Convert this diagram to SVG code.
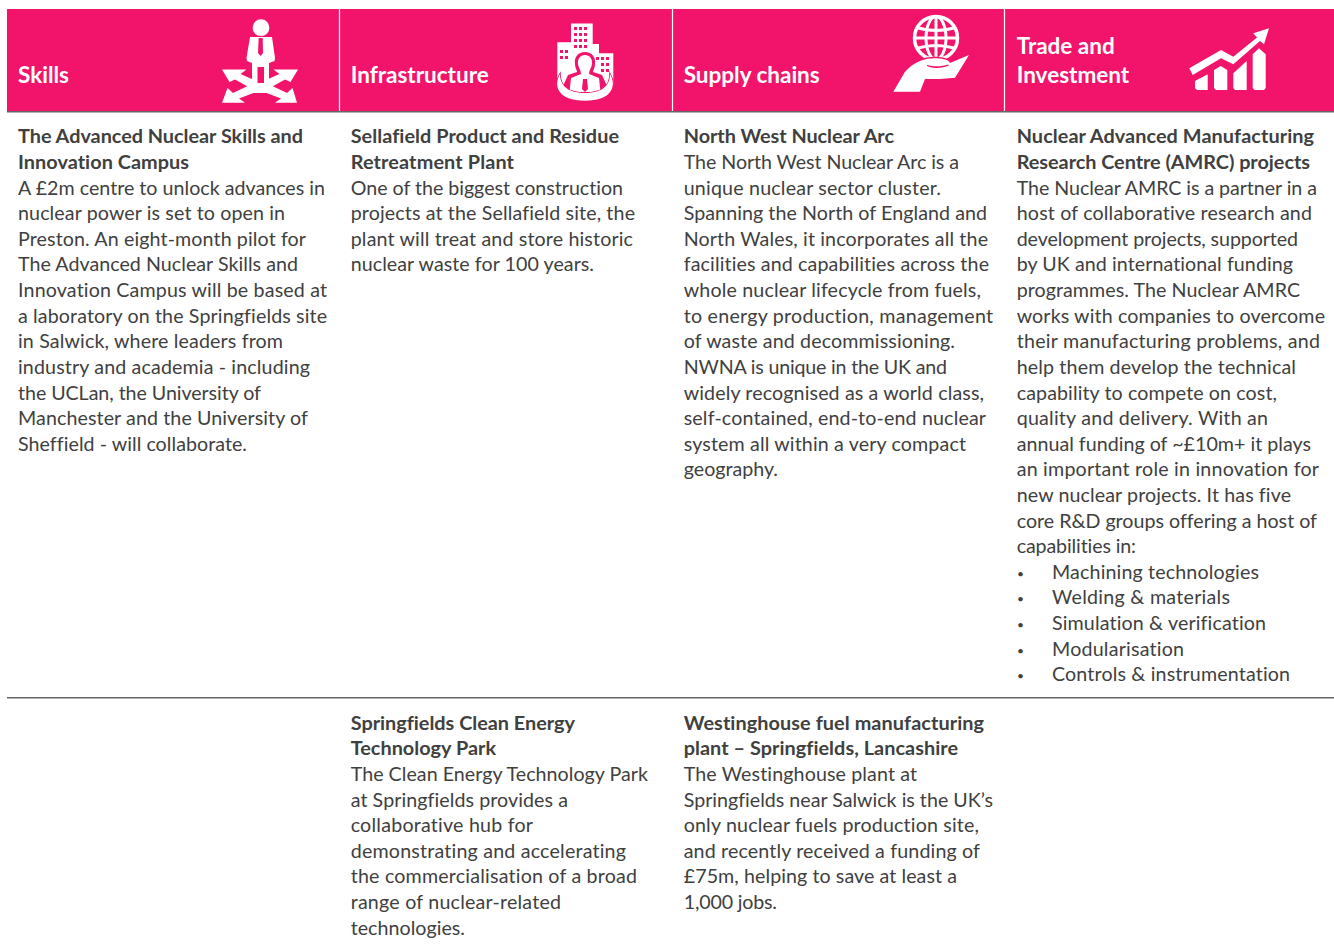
<svg xmlns="http://www.w3.org/2000/svg" width="1334" height="947" viewBox="0 0 1334 947">
<style>
text{font-family:"Lato","Liberation Sans",sans-serif;font-size:19.65px;fill:#404040;font-variant-ligatures:none}
.b{font-weight:700;font-size:19.85px}
.h{font-size:22.5px;font-weight:700;fill:#fff}
.d{font-size:12px}
.w{fill:#fff}
.p{fill:#f2146b}
</style>
<rect width="1334" height="947" fill="#fff"/>
<g id="header">
<rect x="7" y="9" width="1327" height="102" fill="#f2146b"/>
<path d="M339.500 9V111M672.500 9V111M1004.500 9V111" stroke="#fff" stroke-width="1.200" fill="none"/>
<rect x="7" y="111" width="1327" height="1.500" fill="#666"/>
<text class="h" x="18" y="83">Skills</text>
<text class="h" x="350.700" y="83">Infrastructure</text>
<text class="h" x="683.700" y="83">Supply chains</text>
<text class="h" x="1016.700" y="54">Trade and</text>
<text class="h" x="1016.700" y="83">Investment</text>
</g>
<g id="icon-skills">
<circle cx="261" cy="27.700" r="8.400" class="w"/>
<path class="w" d="M250 37H272L275 58L274.500 61L269 63V93H264V67H257.500V93H252V63L247 61L246.500 58Z"/>
<path class="p" d="M258.700 38H262.700L263 53L260.700 56L258 53Z"/>
<path class="w" d="M222 69.500H246.500L240.500 74L254 80V90L235 79.500L229.500 82Z"/>
<path class="w" d="M222 102.700H245L239 98.500L256 92V82L233 93L227.500 88Z"/>
<path class="w" d="M298 69.500H273.500L279.500 74L266 80V90L285 79.500L290.500 82Z"/>
<path class="w" d="M297 102.700H275L281 98.500L264 92V82L287 93L292.500 88Z"/>
<rect class="w" x="252" y="83" width="18" height="10"/>
</g>
<g id="icon-infrastructure">
<path class="w" d="M571 23.500H592.700V44H599V53.300H613.300V85H557.300V42.300H571Z"/>
<path class="p" d="M574 27h3v3h-3zM579 27h3v3h-3zM584 27h3v3h-3zM574 33h3v3h-3zM579 33h3v3h-3zM584 33h3v3h-3zM574 39h3v3h-3zM579 39h3v3h-3zM584 39h3v3h-3zM574 45h3v3h-3zM579 45h3v3h-3zM584 45h3v3h-3zM560 50h3v3h-3zM565 50h3v3h-3zM560 56h3v3h-3zM565 56h3v3h-3zM596 57h3v3h-3zM601 57h3v3h-3zM606 57h3v3h-3zM601 63h3v3h-3zM606 63h3v3h-3zM601 69h3v3h-3zM606 69h3v3h-3z"/>
<path class="p" d="M585 52C592 52 596 57 595 64C595 68 593 70 593 72L602 75L607 86L603 97H567L563 86L568 75L577 72C577 70 575 68 575 64C574 57 578 52 585 52Z"/>
<path class="w" d="M585 55C590 55 592.500 59 592 64C591.500 68 589 70 589 74L599 78L600.500 92H569.500L571 78L581 74C581 70 578.500 68 578 64C577.500 59 580 55 585 55Z"/>
<path class="p" d="M583 79H587L588 89L585 92L582 89Z"/>
<path class="w" stroke="#f2146b" stroke-width="1.500" paint-order="stroke" d="M560 74C553 86 558 100.700 585 100.700C612 100.700 617 86 610 74C610 84 604 93 585 93C566 93 560 84 560 74Z"/>
</g>
<g id="icon-supply">
<circle cx="936" cy="38" r="21.500" fill="none" stroke="#fff" stroke-width="3.500"/>
<ellipse cx="936" cy="38" rx="10" ry="21.500" fill="none" stroke="#fff" stroke-width="3"/>
<path d="M936 18V58M918 28Q936 33 954 28M914.500 38H957.500M918 48Q936 43 954 48" stroke="#fff" stroke-width="3" fill="none"/>
<path class="w" stroke="#f2146b" stroke-width="3" paint-order="stroke" d="M893.300 91.700L905 71.700C910 66 915 63 920 61C926 58.500 932 58 937 58.300C944 59 949 60 950 63L969 55L955 77.700L940 79H925L920 91.700Z"/>
<path class="p" d="M927 65C934 67 942 66.500 948 64.500L949 65.500C942 68.500 934 69 927 66Z"/>
</g>
<g id="icon-trade">
<path class="w" d="M1269 28.300L1253.300 33.300L1257 37.500L1233.300 56.700L1221 50L1189.300 68.300L1192.700 75L1221 58.300L1233.300 64.300L1260 41L1264 44.300Z"/>
<path class="w" d="M1195 81L1207.700 74.300V90H1197L1195 88Z"/>
<path class="w" d="M1214 70L1220.700 66L1227.300 70V90H1216L1214 88Z"/>
<path class="w" d="M1233.300 73.300L1246.700 61V90H1235L1233.300 88Z"/>
<path class="w" d="M1252.700 54.300L1259 48.300L1265.700 54.300V88L1264 90H1254.500L1252.700 88Z"/>
</g>
<rect id="divider" x="7" y="697" width="1327" height="1.500" fill="#666"/>
<g id="col-skills">
<text class="b" x="18" y="143" textLength="285">The Advanced Nuclear Skills and</text>
<text class="b" x="18" y="169" textLength="171">Innovation Campus</text>
<text x="18" y="195" textLength="307">A £2m centre to unlock advances in</text>
<text x="18" y="220" textLength="267">nuclear power is set to open in</text>
<text x="18" y="246" textLength="288">Preston. An eight-month pilot for</text>
<text x="18" y="271" textLength="280">The Advanced Nuclear Skills and</text>
<text x="18" y="297" textLength="309">Innovation Campus will be based at</text>
<text x="18" y="323" textLength="309">a laboratory on the Springfields site</text>
<text x="18" y="348" textLength="265">in Salwick, where leaders from</text>
<text x="18" y="374" textLength="292">industry and academia - including</text>
<text x="18" y="400" textLength="243">the UCLan, the University of</text>
<text x="18" y="425" textLength="290">Manchester and the University of</text>
<text x="18" y="451" textLength="229">Sheffield - will collaborate.</text>
</g>
<g id="col-infrastructure">
<text class="b" x="350.700" y="143" textLength="268.300">Sellafield Product and Residue</text>
<text class="b" x="350.700" y="169" textLength="163.300">Retreatment Plant</text>
<text x="350.700" y="195" textLength="272.300">One of the biggest construction</text>
<text x="350.700" y="220" textLength="284.300">projects at the Sellafield site, the</text>
<text x="350.700" y="246" textLength="282.300">plant will treat and store historic</text>
<text x="350.700" y="271" textLength="243.300">nuclear waste for 100 years.</text>
<text class="b" x="350.700" y="730" textLength="224.300">Springfields Clean Energy</text>
<text class="b" x="350.700" y="755" textLength="145.300">Technology Park</text>
<text x="350.700" y="781" textLength="297.300">The Clean Energy Technology Park</text>
<text x="350.700" y="807" textLength="217.300">at Springfields provides a</text>
<text x="350.700" y="832" textLength="182.300">collaborative hub for</text>
<text x="350.700" y="858" textLength="275.300">demonstrating and accelerating</text>
<text x="350.700" y="883" textLength="286.300">the commercialisation of a broad</text>
<text x="350.700" y="909" textLength="210.300">range of nuclear-related</text>
<text x="350.700" y="935" textLength="114.300">technologies.</text>
</g>
<g id="col-supply">
<text class="b" x="683.700" y="143" textLength="210.300">North West Nuclear Arc</text>
<text x="683.700" y="169" textLength="275.300">The North West Nuclear Arc is a</text>
<text x="683.700" y="195" textLength="257.300">unique nuclear sector cluster.</text>
<text x="683.700" y="220" textLength="303.300">Spanning the North of England and</text>
<text x="683.700" y="246" textLength="304.300">North Wales, it incorporates all the</text>
<text x="683.700" y="271" textLength="305.300">facilities and capabilities across the</text>
<text x="683.700" y="297" textLength="297.300">whole nuclear lifecycle from fuels,</text>
<text x="683.700" y="323" textLength="309.300">to energy production, management</text>
<text x="683.700" y="348" textLength="271.300">of waste and decommissioning.</text>
<text x="683.700" y="374" textLength="263.300">NWNA is unique in the UK and</text>
<text x="683.700" y="400" textLength="300.300">widely recognised as a world class,</text>
<text x="683.700" y="425" textLength="302.300">self-contained, end-to-end nuclear</text>
<text x="683.700" y="451" textLength="282.300">system all within a very compact</text>
<text x="683.700" y="476" textLength="94.300">geography.</text>
<text class="b" x="683.700" y="730" textLength="300.300">Westinghouse fuel manufacturing</text>
<text class="b" x="683.700" y="755" textLength="274.300">plant – Springfields, Lancashire</text>
<text x="683.700" y="781" textLength="233.300">The Westinghouse plant at</text>
<text x="683.700" y="807" textLength="309.300">Springfields near Salwick is the UK’s</text>
<text x="683.700" y="832" textLength="295.300">only nuclear fuels production site,</text>
<text x="683.700" y="858" textLength="296.300">and recently received a funding of</text>
<text x="683.700" y="883" textLength="273.300">£75m, helping to save at least a</text>
<text x="683.700" y="909" textLength="93.300">1,000 jobs.</text>
</g>
<g id="col-trade">
<text class="b" x="1016.700" y="143" textLength="297.300">Nuclear Advanced Manufacturing</text>
<text class="b" x="1016.700" y="169" textLength="293.300">Research Centre (AMRC) projects</text>
<text x="1016.700" y="195" textLength="300.300">The Nuclear AMRC is a partner in a</text>
<text x="1016.700" y="220" textLength="295.300">host of collaborative research and</text>
<text x="1016.700" y="246" textLength="281.300">development projects, supported</text>
<text x="1016.700" y="271" textLength="276.300">by UK and international funding</text>
<text x="1016.700" y="297" textLength="283.300">programmes. The Nuclear AMRC</text>
<text x="1016.700" y="323" textLength="308.300">works with companies to overcome</text>
<text x="1016.700" y="348" textLength="303.300">their manufacturing problems, and</text>
<text x="1016.700" y="374" textLength="279.300">help them develop the technical</text>
<text x="1016.700" y="400" textLength="260.300">capability to compete on cost,</text>
<text x="1016.700" y="425" textLength="251.300">quality and delivery. With an</text>
<text x="1016.700" y="451" textLength="294.300">annual funding of ~£10m+ it plays</text>
<text x="1016.700" y="476" textLength="302.300">an important role in innovation for</text>
<text x="1016.700" y="502" textLength="274.300">new nuclear projects. It has five</text>
<text x="1016.700" y="528" textLength="300.300">core R&amp;D groups offering a host of</text>
<text x="1016.700" y="553" textLength="119.300">capabilities in:</text>
<text class="d" x="1017" y="578">•</text><text x="1052" y="579" textLength="207">Machining technologies</text>
<text class="d" x="1017" y="603">•</text><text x="1052" y="604" textLength="178">Welding &amp; materials</text>
<text class="d" x="1017" y="629">•</text><text x="1052" y="630" textLength="214">Simulation &amp; verification</text>
<text class="d" x="1017" y="655">•</text><text x="1052" y="656" textLength="132">Modularisation</text>
<text class="d" x="1017" y="680">•</text><text x="1052" y="681" textLength="238">Controls &amp; instrumentation</text>
</g>
</svg>
